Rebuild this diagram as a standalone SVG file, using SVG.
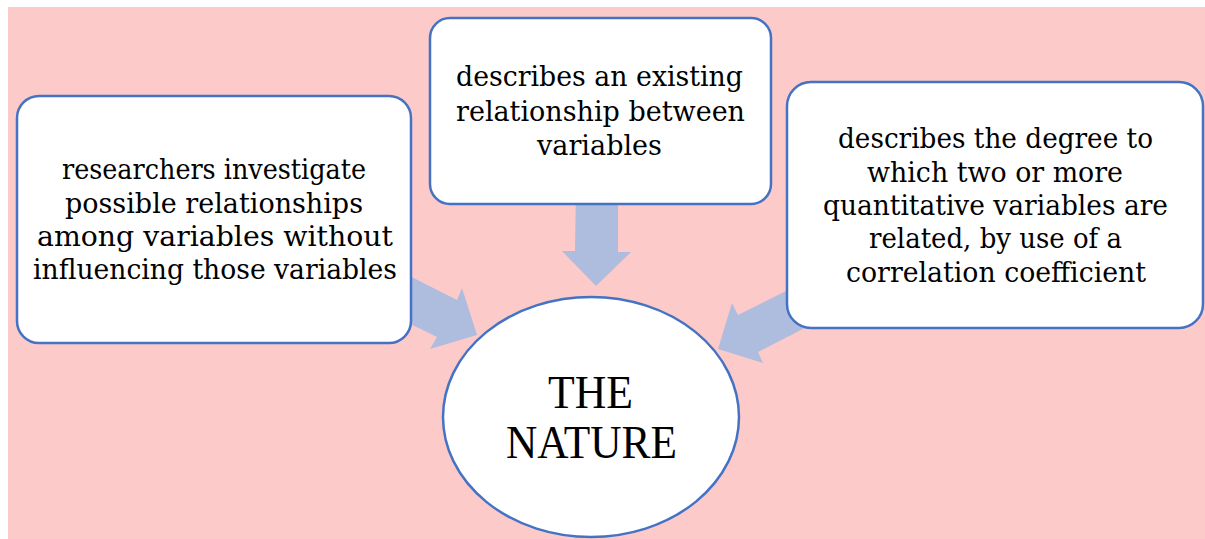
<svg xmlns="http://www.w3.org/2000/svg" width="1205" height="539" viewBox="0 0 1205 539">
<style>
.box{fill:#ffffff;stroke:#4472c4;stroke-width:2.5}
.arrow{fill:#aebcde;stroke:none}
.t{font-family:"DejaVu Serif","Liberation Serif",serif;font-size:27px;fill:#000;text-anchor:middle}
.big{font-family:"Liberation Serif","DejaVu Serif",serif;font-size:46px;fill:#000;text-anchor:middle}
</style>
<rect x="0" y="0" width="1205" height="539" fill="#ffffff"/>
<rect x="8" y="7" width="1197" height="532" fill="#fdcaca"/>
<g id="connectors">
<polygon class="arrow" points="380,261 457,300 462,288 477,335 430,349 437,337 380,309"/>
<polygon class="arrow" points="576,190 575,251 562,251 596,286 631,252 618,252 618,190"/>
<polygon class="arrow" points="830,269 738,315 732,303 718,349 763,363 758,352 830,315"/>
</g>
<g id="node-left">
<rect class="box" x="17" y="96" width="394" height="247" rx="22"/>
<text class="t" x="214" y="179" textLength="304" lengthAdjust="spacingAndGlyphs">researchers investigate</text>
<text class="t" x="214" y="213" textLength="298" lengthAdjust="spacingAndGlyphs">possible relationships</text>
<text class="t" x="215" y="246" textLength="356" lengthAdjust="spacingAndGlyphs">among variables without</text>
<text class="t" x="215" y="279" textLength="364" lengthAdjust="spacingAndGlyphs">influencing those variables</text>
</g>
<g id="node-top">
<rect class="box" x="430" y="18" width="341" height="186" rx="20"/>
<text class="t" x="599.5" y="86" textLength="287" lengthAdjust="spacingAndGlyphs">describes an existing</text>
<text class="t" x="600.5" y="121" textLength="289" lengthAdjust="spacingAndGlyphs">relationship between</text>
<text class="t" x="599.5" y="155" textLength="125" lengthAdjust="spacingAndGlyphs">variables</text>
</g>
<g id="node-right">
<rect class="box" x="787" y="82" width="416" height="246" rx="24"/>
<text class="t" x="995.5" y="148" textLength="315" lengthAdjust="spacingAndGlyphs">describes the degree to</text>
<text class="t" x="995" y="182" textLength="256" lengthAdjust="spacingAndGlyphs">which two or more</text>
<text class="t" x="995.5" y="215" textLength="345" lengthAdjust="spacingAndGlyphs">quantitative variables are</text>
<text class="t" x="995.5" y="248" textLength="253" lengthAdjust="spacingAndGlyphs">related, by use of a</text>
<text class="t" x="996" y="282" textLength="300" lengthAdjust="spacingAndGlyphs">correlation coefficient</text>
</g>
<g id="node-center">
<ellipse class="box" cx="591" cy="417" rx="148" ry="120"/>
<text class="big" x="590.5" y="408" textLength="85" lengthAdjust="spacingAndGlyphs">THE</text>
<text class="big" x="591.5" y="458" textLength="171" lengthAdjust="spacingAndGlyphs">NATURE</text>
</g>
</svg>
